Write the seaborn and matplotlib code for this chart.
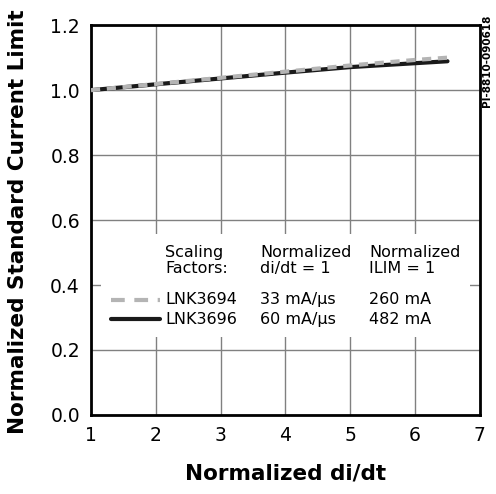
import matplotlib
matplotlib.use('Agg')
import matplotlib.pyplot as plt
import seaborn as sns
import pandas as pd
from matplotlib.patches import Rectangle

# values
didt = [1.0, 2.0, 3.0, 4.0, 5.0, 6.0, 6.5]
ilim_3694 = [1.000, 1.019, 1.038, 1.057, 1.076, 1.093, 1.100]
ilim_3696 = [1.000, 1.018, 1.036, 1.054, 1.071, 1.083, 1.089]
parts = ['LNK3694', 'LNK3696']
didt_scale = ['33 mA/\u03bcs', '60 mA/\u03bcs']
ilim_scale = ['260 mA', '482 mA']

df = pd.DataFrame({
    'didt': didt * 2,
    'ilim': ilim_3694 + ilim_3696,
    'part': [parts[0]] * len(didt) + [parts[1]] * len(didt),
})

sns.set_style('white')
plt.rcParams['font.family'] = ['DejaVu Sans']
plt.rcParams['text.color'] = 'black'

fig = plt.figure(figsize=(4.96, 4.94), dpi=100)
ax = fig.add_axes([0.1835, 0.160, 0.784, 0.789])

sns.lineplot(data=df, x='didt', y='ilim', hue='part', style='part',
             palette={'LNK3694': '#b4b4b4', 'LNK3696': '#1a1a1a'},
             dashes={'LNK3694': (2.2, 1.6), 'LNK3696': ''},
             linewidth=3, ax=ax, legend=False)
# grey dashes sit on top of the black line
ax.get_lines()[0].set_zorder(5)
ax.get_lines()[1].set_zorder(4)

ax.set_xlim(1, 7)
ax.set_ylim(0, 1.2)
ax.set_xticks(range(1, 8))
ax.set_yticks([0.0, 0.2, 0.4, 0.6, 0.8, 1.0, 1.2])
ax.set_yticklabels(['0.0', '0.2', '0.4', '0.6', '0.8', '1.0', '1.2'])
ax.grid(True, color='#808080', linewidth=1)
ax.tick_params(axis='both', length=0, labelsize=13.5, pad=8, colors='black')
for s in ax.spines.values():
    s.set_linewidth(2)
    s.set_color('black')

ax.set_xlabel('Normalized di/dt', fontsize=15.5, fontweight='bold',
              labelpad=13, color='black')
ax.set_ylabel('Normalized Standard Current Limit', fontsize=15.5,
              fontweight='bold', color='black')
ax.yaxis.set_label_coords(-0.163, 0.495)

# white key box covering the grid
ax.add_patch(Rectangle((0.025, 0.2), 0.95, 0.265, transform=ax.transAxes,
                       facecolor='white', edgecolor='none', zorder=3))

fs = 11.5
col1, col2, col3 = 0.19, 0.435, 0.715
ax.text(col1, 0.435, 'Scaling\nFactors:', transform=ax.transAxes, fontsize=fs,
        va='top', linespacing=1.05, zorder=6)
ax.text(col2, 0.435, 'Normalized\ndi/dt = 1', transform=ax.transAxes, fontsize=fs,
        va='top', linespacing=1.05, zorder=6)
ax.text(col3, 0.435, 'Normalized\nILIM = 1', transform=ax.transAxes, fontsize=fs,
        va='top', linespacing=1.05, zorder=6)
rows = [0.296, 0.245]
for i, line in enumerate(ax.get_lines()[:2]):
    ax.plot([0.051, 0.177], [rows[i], rows[i]], transform=ax.transAxes,
            color=line.get_color(), linestyle=line.get_linestyle(),
            dashes=(3.3, 2.3) if i == 0 else (None, None),
            linewidth=3, zorder=6)
    ax.text(col1, rows[i], parts[i], transform=ax.transAxes, fontsize=fs,
            va='center', zorder=6)
    ax.text(col2, rows[i], didt_scale[i], transform=ax.transAxes, fontsize=fs,
            va='center', zorder=6)
    ax.text(col3, rows[i], ilim_scale[i], transform=ax.transAxes, fontsize=fs,
            va='center', zorder=6)

fig.text(0.982, 0.97, 'PI-8810-090618', rotation=90, fontsize=7.5,
         fontweight='bold', ha='center', va='top')

plt.savefig('out.png', dpi=100)
plt.close()
